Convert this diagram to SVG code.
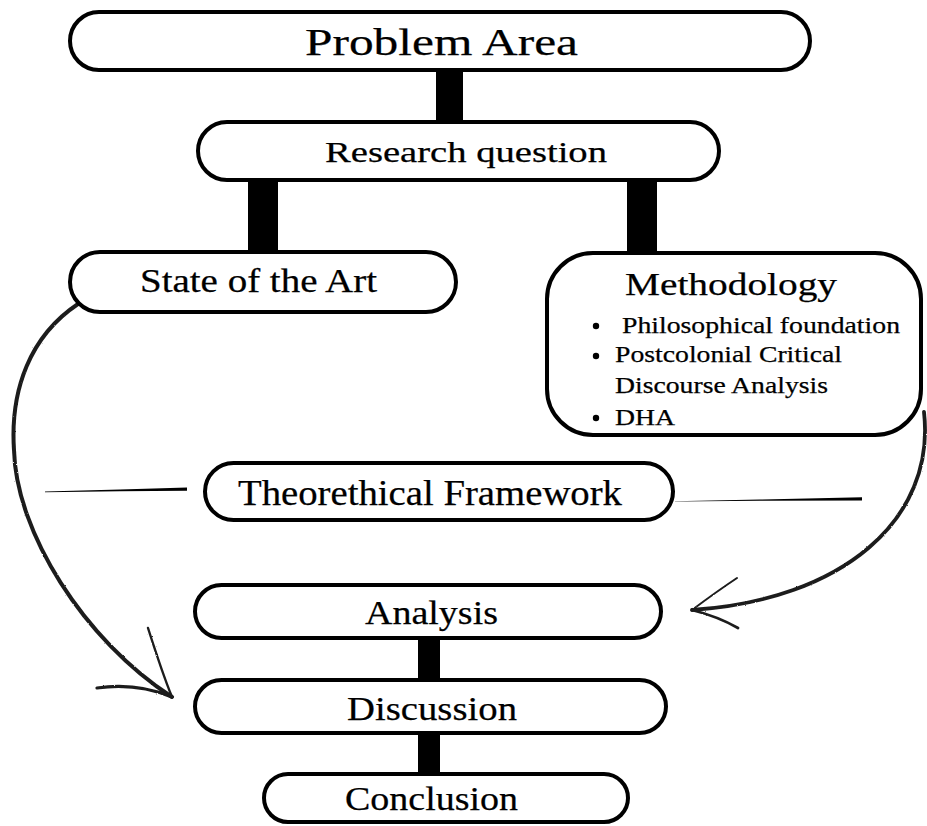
<svg xmlns="http://www.w3.org/2000/svg" width="927" height="826" viewBox="0 0 927 826">
  <style>
    .box { fill: #fff; stroke: #000; stroke-width: 4; }
    .bar { fill: #000; }
    .lbl { font-family: "Liberation Serif", "Times New Roman", serif; fill: #000; stroke: #000; stroke-width: 0.25; }
    .sketch { fill: none; stroke: #1c1c1c; stroke-linecap: round; stroke-linejoin: round; }
  </style>
  <defs>
    <filter id="rough" x="-5%" y="-5%" width="110%" height="110%">
      <feTurbulence type="fractalNoise" baseFrequency="0.9" numOctaves="2" seed="3" result="n"/>
      <feDisplacementMap in="SourceGraphic" in2="n" scale="1.8" xChannelSelector="R" yChannelSelector="G"/>
    </filter>
  </defs>
  <rect width="927" height="826" fill="#fff"/>

  <!-- thick vertical links between the stacked boxes -->
  <g id="connectors">
    <rect class="bar" x="436" y="70" width="27" height="52"/>
    <rect class="bar" x="248" y="180" width="30" height="72"/>
    <rect class="bar" x="627" y="180" width="30" height="73"/>
    <rect class="bar" x="418" y="638" width="22" height="42"/>
    <rect class="bar" x="418" y="733" width="22" height="41"/>

    <!-- tapered side strokes beside the framework box -->
    <polygon fill="#000" points="45,491.6 120,489.6 187,487.6 187,490.8 120,491.2 45,492.2"/>
    <polygon fill="#000" points="675,501.2 760,499.6 862,497.2 862,500.4 760,500.8 675,501.6"/>

    <!-- hand-drawn curved arrows -->
    <g filter="url(#rough)">
      <path class="sketch" stroke-width="4" d="M78,304 C30,336 10,390 14,450 C16,532 84,640 172,697"/>
      <path class="sketch" stroke-width="2.4" d="M172,697 C163,675 155,650 148,628"/>
      <path class="sketch" stroke-width="3.2" d="M172,697 C150,688 125,684 97,688"/>

      <path class="sketch" stroke-width="3.8" d="M924,412 C936,520 842,600 692,610"/>
      <path class="sketch" stroke-width="2" d="M692,610 C708,598 722,588 737,578"/>
      <path class="sketch" stroke-width="2.8" d="M692,610 C708,614 724,620 738,628"/>
    </g>
  </g>

  <g id="problem-area">
    <rect class="box" x="70" y="12" width="740" height="58" rx="29"/>
    <text class="lbl" x="305" y="55" font-size="38" textLength="273" lengthAdjust="spacingAndGlyphs">Problem Area</text>
  </g>

  <g id="research-question">
    <rect class="box" x="198" y="122" width="521" height="58" rx="29"/>
    <text class="lbl" x="325" y="162" font-size="30" textLength="282" lengthAdjust="spacingAndGlyphs">Research question</text>
  </g>

  <g id="state-of-the-art">
    <rect class="box" x="70" y="252" width="386" height="60" rx="30"/>
    <text class="lbl" x="140" y="292" font-size="33" textLength="237" lengthAdjust="spacingAndGlyphs">State of the Art</text>
  </g>

  <g id="methodology">
    <rect class="box" x="547" y="253" width="374" height="182" rx="46"/>
    <text class="lbl" x="625" y="295" font-size="32" textLength="212" lengthAdjust="spacingAndGlyphs">Methodology</text>
    <circle cx="596" cy="326" r="3.2"/>
    <text class="lbl" x="622" y="333" font-size="23" textLength="278" lengthAdjust="spacingAndGlyphs">Philosophical foundation</text>
    <circle cx="596" cy="356" r="3.2"/>
    <text class="lbl" x="615" y="362" font-size="23" textLength="227" lengthAdjust="spacingAndGlyphs">Postcolonial Critical</text>
    <text class="lbl" x="615" y="393" font-size="23" textLength="213" lengthAdjust="spacingAndGlyphs">Discourse Analysis</text>
    <circle cx="596" cy="418" r="3.2"/>
    <text class="lbl" x="615" y="425" font-size="23" textLength="60" lengthAdjust="spacingAndGlyphs">DHA</text>
  </g>

  <g id="theoretical-framework">
    <rect class="box" x="205" y="463" width="468" height="57" rx="28.5"/>
    <text class="lbl" x="238" y="505" font-size="36" textLength="384" lengthAdjust="spacingAndGlyphs">Theorethical Framework</text>
  </g>

  <g id="analysis">
    <rect class="box" x="195" y="585" width="466" height="53" rx="26.5"/>
    <text class="lbl" x="365" y="624" font-size="34" textLength="133" lengthAdjust="spacingAndGlyphs">Analysis</text>
  </g>

  <g id="discussion">
    <rect class="box" x="195" y="680" width="471" height="53" rx="26.5"/>
    <text class="lbl" x="347" y="720" font-size="34" textLength="170" lengthAdjust="spacingAndGlyphs">Discussion</text>
  </g>

  <g id="conclusion">
    <rect class="box" x="264" y="774" width="364" height="48" rx="24"/>
    <text class="lbl" x="345" y="810" font-size="34" textLength="173" lengthAdjust="spacingAndGlyphs">Conclusion</text>
  </g>
</svg>
